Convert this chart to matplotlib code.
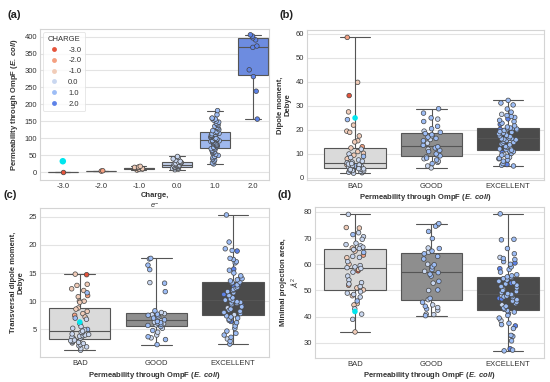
import numpy as np
import pandas as pd
import matplotlib
matplotlib.use('Agg')
import matplotlib.pyplot as plt
import seaborn as sns
from matplotlib.lines import Line2D

# ---------------- DATA ----------------
charge_labels = ['-3.0', '-2.0', '-1.0', '0.0', '1.0', '2.0']
charge_colors = ['#e5533b', '#f4a081', '#f1ccb8', '#c9d7f0', '#9dbdf6', '#5d82e8']
box_a_colors = ['#d0604a', '#e0a38a', '#ddc3b3', '#bfcde8', '#9fb8ee', '#6d8ce0']

perm_m3 = [2]
perm_m2 = [4, 5]
perm_m1 = [7, 9, 10, 11, 12, 12, 13, 14, 15, 16, 18]
perm_0 = [8, 10, 11, 12, 13, 14, 15, 16, 18, 19, 20, 21, 22, 23, 25, 26, 28, 29,
          30, 31, 33, 36, 40, 44, 47]
perm_1 = [25, 28, 33, 37, 40, 44, 47, 50, 53, 56, 59, 61, 63, 65, 68, 70, 72,
          74, 76, 78, 80, 81, 83, 84, 86, 87, 88, 90, 91, 92, 93, 94, 95,
          97, 98, 100, 101, 103, 104, 106, 107, 109, 110, 112, 114, 115, 117, 118, 120,
          123, 126, 130, 133, 136, 139, 142, 145, 148, 151, 154, 157, 159, 160, 170, 182]
perm_2 = [157, 239, 282, 302, 368, 372, 390, 396, 401, 405]

classes = ['BAD', 'GOOD', 'EXCELLENT']
class_colors = ['#dadada', '#8e8e8e', '#4b4b4b']

bad_charge = [-3, -2, -2,
              -1, -1, -1, -1, -1, -1, -1, -1, -1, -1, -1, -1, -1, -1,
              1, 1, 1,
              0, 0, 0, 0, 0, 0, 0, 0, 0, 0, 0, 0, 0, 0, 0, 0, 0, 0, 0, 0,
              0, 0, 0, 0, 0, 0, 0, 0, 0, 0]
bad_dipole = [34.3, 58.5, 13,
              39.8, 27.5, 22, 19.5, 19, 17.5, 15.5, 15, 12.5, 11, 10.3, 9.5, 8, 5.5,
              24.3, 9, 5,
              12, 10, 8.5, 7.5, 7, 6.6, 6.3, 4, 4.2, 4.4, 4.5, 4.7, 4.9, 5, 5.2, 5.4, 5.8, 6,
              2, 2.2, 2.4, 2.6, 2.8, 3, 3.1, 3.3, 3.5, 3.6, 3.8, 3.9]
bad_trans = [14.7, 11, 7.5,
             14.8, 13, 12.8, 12.2, 11.9, 10.8, 10, 10, 9.8, 8.8, 8.6, 8.2, 7.8, 7.2,
             11.5, 7, 5,
             6.8, 6, 5.5, 5.2, 4.9, 3.3, 3.4, 3.5, 3.6, 3.7, 3.8, 3.9, 4.0, 4.1, 4.2, 4.4, 4.5, 4.7,
             1.3, 1.6, 1.9, 2.1, 2.3, 2.5, 2.6, 2.7, 2.8, 2.9, 3.0, 3.1]
bad_area = [57.5, 63.5, 52,
            74, 73.8, 66.2, 65, 62.5, 60, 58, 51, 50.5, 50.2, 48, 45, 44.5, 34.2,
            71.3, 64.5, 46,
            79, 72, 70.5, 69.5, 68, 67.5, 67, 66.5, 66, 65.6, 63, 62.6, 61, 59.5, 59, 58.7,
            58.4, 57, 55.5, 54, 53, 52.5, 51.5, 49.5, 49, 48.5, 47.5, 43, 41, 39]

good_charge = [0, 0, 0, 0, 0, 0, 0, 0, 0, 0, 0, 0, 0, 0,
               1, 1, 1, 1, 1, 1, 1, 1, 1, 1, 1, 1, 1, 1, 1, 1, 1, 1, 1, 1, 1, 1]
good_dipole = [4.2, 5, 6.5, 7, 8, 8.8, 9.6, 10.5, 12, 14.5, 16, 17.5, 19.5, 24.5,
               6, 7.5, 8.3, 9.2, 10, 11, 11.5, 12.5, 13, 13.6, 15.5, 16.5, 17, 18, 18.5,
               19, 20.5, 21.5, 23.5, 25, 27, 28.8]
good_trans = [3.5, 4.0, 4.5, 5.2, 5.8, 6.0, 6.3, 6.5, 6.8, 7.2, 7.6, 7.8, 8.0, 13.3,
              2.3, 3.2, 3.7, 4.8, 5.5, 5.7, 5.9, 6.1, 6.2, 6.4, 6.7, 7.0, 7.4, 7.5, 7.7,
              8.3, 11.7, 13.2, 15.6, 16.4, 17.5, 17.6]
good_area = [40.8, 41, 42.5, 43.5, 44.5, 46.5, 50, 52.8, 57.3, 58.5, 60, 64.6, 66.2, 75,
             40.4, 43, 44, 45.5, 47, 50.2, 53.5, 55.5, 56.2, 56.8, 58, 59, 59.8, 62, 63, 64,
             65, 66, 69.8, 72.5, 74.5, 75.5]

exc_charge = [2, 2, 2, 2, 2, 2, 2, 2,
              0, 0, 0, 0, 0, 0,
              1, 1, 1, 1, 1, 1, 1, 1, 1, 1, 1, 1, 1, 1, 1, 1, 1, 1, 1, 1, 1, 1, 1, 1, 1, 1, 1,
              1, 1, 1, 1, 1, 1, 1, 1, 1, 1, 1, 1, 1, 1, 1, 1, 1, 1, 1, 1, 1, 1, 1, 1, 1, 1, 1]
exc_dipole = [5.6, 20.2, 18.1, 13.5, 22.3, 10.6, 16.9, 24.6,
              8.6, 15, 19.5, 12.5, 26.5, 9.8,
              5, 5.3, 6, 7, 7.5, 8, 8.2, 9, 9.5, 10.2, 11, 11.3, 11.6,
              11.8, 12.1, 12.8, 13.1, 13.8, 14.1, 14.5, 14.8, 15.3, 15.6, 15.9, 16.1, 16.3, 16.4,
              16.6, 17.2, 17.5, 17.8, 18.4, 18.7, 19, 19.3, 19.8, 20, 20.4, 20.5, 20.6,
              20.8, 21.2, 21.7, 22.8, 23.5, 24, 25.2, 25.6, 26, 27.4, 28.7, 30.4, 31.2, 32.3]
exc_trans = [18.9, 15.7, 12.7, 10.0, 11.2, 6.4, 9.2, 13.0,
             7.6, 3.3, 14.2, 10.8, 5.9, 8.8,
             2.4, 2.9, 3.6, 4, 4.3, 4.7, 5.2, 5.6, 6.2, 6.6, 6.8, 7.0, 7.2, 7.4,
             7.8, 8.0, 8.2, 8.4, 8.6, 9.0, 9.4, 9.6, 9.7, 9.8, 9.9, 10.1, 10.2,
             10.4, 10.6, 11, 11.5, 11.7, 11.9, 12.1, 12.3, 12.5, 12.9, 13.2, 13.3, 13.4,
             13.6, 13.8, 14.0, 14.5, 15.0, 15.5, 16.8, 17.0, 17.4, 17.6, 19.0, 19.3, 20.5, 25.3]
exc_area = [27.8, 58.3, 60.5, 47, 52.8, 36.5, 46.8, 41.2,
            32.7, 44.5, 50.5, 62.6, 48.2, 38.5,
            27, 27.3, 30.8, 32.5, 32.9, 35.5, 37, 37.5, 39.5, 40.5, 41.8, 42.3,
            42.8, 43.3, 44, 45, 45.5, 46, 46.5, 47.3, 47.6, 47.9, 48, 48.4, 48.5,
            48.8, 49.2, 49.6, 50, 51, 51.5, 52, 52.5, 53, 53.5, 54, 54.5, 54.8, 55, 55.2,
            55.6, 56, 57, 58, 59, 60, 61, 61.8, 62.2, 64, 66, 69.3, 69.5, 79.2]

# highlighted molecule (cyan)
hl_charge = -3
hl_perm = 33
hl_dipole = 25
hl_trans = 6.3
hl_area = 42

# ---------------- STYLE ----------------
sns.set_theme(style='whitegrid')
plt.rcParams['font.family'] = ['Liberation Sans', 'DejaVu Sans']
plt.rcParams['mathtext.fontset'] = 'custom'
plt.rcParams['mathtext.rm'] = 'Liberation Sans'
plt.rcParams['mathtext.it'] = 'Liberation Sans:italic'
plt.rcParams['mathtext.bf'] = 'Liberation Sans:bold'
plt.rcParams['mathtext.bfit'] = 'Liberation Sans:bold:italic'

FS = 5.5
TXT = '#333333'
LINE = '#555555'
CYAN = '#00e6ee'
pal_charge = dict(zip(charge_labels, charge_colors))

fig = plt.figure(figsize=(5.5, 3.82), dpi=100)
np.random.seed(3)


def style_ax(ax):
    ax.grid(axis='y', color='#e3e3e3', linewidth=0.8)
    ax.grid(axis='x', visible=False)
    for s in ax.spines.values():
        s.set_color('#d4d4d4')
        s.set_linewidth(0.8)
    ax.tick_params(axis='both', labelsize=FS, colors=TXT, length=0, pad=2)
    ax.set_axisbelow(True)


perm_label = r'Permeability through OmpF ($\mathbfit{E.\ coli}$)'

# ---------- (a) ----------
ax = fig.add_axes([0.0727, 0.529, 0.4163, 0.395])
perm_groups = [perm_m3, perm_m2, perm_m1, perm_0, perm_1, perm_2]
dfa = pd.DataFrame({
    'charge': [lab for lab, g in zip(charge_labels, perm_groups) for _ in g],
    'perm': [v for g in perm_groups for v in g],
})
sns.boxplot(data=dfa, x='charge', y='perm', order=charge_labels, hue='charge',
            hue_order=charge_labels, palette=box_a_colors, saturation=1,
            whis=(0, 100), showfliers=False, width=0.8, linewidth=0.8,
            linecolor=LINE, legend=False, ax=ax)
sns.stripplot(data=dfa, x='charge', y='perm', order=charge_labels, hue='charge',
              hue_order=charge_labels, palette=pal_charge, jitter=0.12, size=3.3,
              edgecolor='#444444', linewidth=0.5, legend=False, ax=ax)
ax.scatter([charge_labels.index('%.1f' % hl_charge)], [hl_perm], s=22, color=CYAN,
           edgecolor='none', zorder=6)
ax.set_xlim(-0.6, 5.42)
ax.set_ylim(-22, 422)
ax.set_yticks(np.arange(0, 401, 50))
ax.set_xlabel('Charge,\n$e^{-}$', fontsize=FS, fontweight='bold', color=TXT, labelpad=2)
ax.set_ylabel(perm_label, fontsize=FS, fontweight='bold', color=TXT, labelpad=3)
style_ax(ax)
handles = [Line2D([], [], marker='o', linestyle='none', markersize=3.5,
                  markerfacecolor=c, markeredgecolor='none') for c in charge_colors]
leg = ax.legend(handles, charge_labels, title='CHARGE', loc='upper left',
                fontsize=FS, title_fontsize=FS, frameon=True, borderaxespad=0.4,
                handletextpad=0.8, labelspacing=0.45, borderpad=0.5)
leg.get_frame().set_edgecolor('#dddddd')
leg.get_frame().set_linewidth(0.6)
for t in leg.get_texts():
    t.set_color(TXT)
leg.get_title().set_color(TXT)


def class_panel(rect, values, ylabel, ylim, yticks, xlim, hl_value, xlabel):
    ax = fig.add_axes(rect)
    charges = [bad_charge, good_charge, exc_charge]
    df = pd.DataFrame({
        'cls': [c for c, g in zip(classes, values) for _ in g],
        'val': [v for g in values for v in g],
        'charge': ['%.1f' % q for g in charges for q in g],
    })
    sns.boxplot(data=df, x='cls', y='val', order=classes, hue='cls', hue_order=classes,
                palette=class_colors, saturation=1, whis=(0, 100), showfliers=False,
                width=0.8, linewidth=0.8, linecolor=LINE, legend=False, ax=ax)
    sns.stripplot(data=df, x='cls', y='val', order=classes, hue='charge',
                  hue_order=charge_labels, palette=pal_charge, jitter=0.12, size=3.3,
                  edgecolor='#444444', linewidth=0.5, legend=False, ax=ax)
    ax.scatter([0], [hl_value], s=16, color=CYAN, edgecolor='none', zorder=6)
    ax.set_xlim(*xlim)
    ax.set_ylim(*ylim)
    ax.set_yticks(yticks)
    ax.set_xlabel(xlabel, fontsize=FS, fontweight='bold', color=TXT, labelpad=2)
    ax.set_ylabel(ylabel, fontsize=FS, fontweight='bold', color=TXT, labelpad=3)
    style_ax(ax)
    return ax


class_panel([0.558, 0.529, 0.431, 0.392], [bad_dipole, good_dipole, exc_dipole],
            'Dipole moment,\nDebye', (-0.8, 61.5), np.arange(0, 61, 10), (-0.63, 2.47),
            hl_dipole, perm_label)
class_panel([0.0727, 0.0654, 0.4163, 0.3896], [bad_trans, good_trans, exc_trans],
            'Transversal dipole moment,\nDebye', (0.1, 26.5), np.arange(5, 26, 5),
            (-0.52, 2.47), hl_trans, perm_label)
class_panel([0.573, 0.063, 0.416, 0.395], [bad_area, good_area, exc_area],
            'Minimal projection area,\n$Å^2$', (24.3, 81.8), np.arange(30, 81, 10),
            (-0.52, 2.47), hl_area, perm_label)

for lab, x, y in [('(a)', 0.014, 0.962), ('(b)', 0.509, 0.962),
                  ('(c)', 0.006, 0.49), ('(d)', 0.504, 0.49)]:
    fig.text(x, y, lab, fontsize=8, fontweight='bold', color='#222222', va='center')

fig.savefig('out.png', dpi=100)
